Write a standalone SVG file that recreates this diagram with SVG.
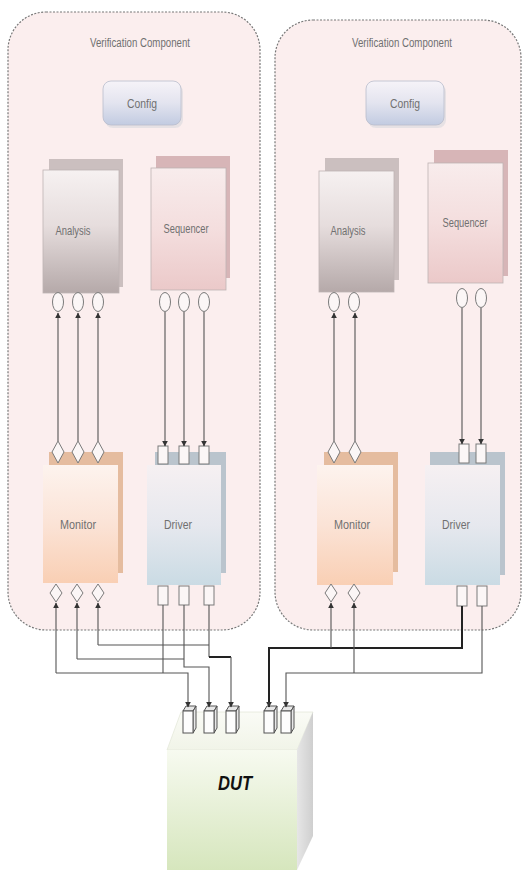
<svg xmlns="http://www.w3.org/2000/svg" width="523" height="871" viewBox="0 0 523 871">
<defs>
<linearGradient id="gAna" x1="0" y1="0" x2="0" y2="1"><stop offset="0" stop-color="#f6f1f1"/><stop offset="0.45" stop-color="#e6dddd"/><stop offset="1" stop-color="#b5a9a9"/></linearGradient>
<linearGradient id="gSeq" x1="0" y1="0" x2="0" y2="1"><stop offset="0" stop-color="#f8ecec"/><stop offset="0.5" stop-color="#f4dede"/><stop offset="1" stop-color="#ebc9c9"/></linearGradient>
<linearGradient id="gMon" x1="0" y1="0" x2="0" y2="1"><stop offset="0" stop-color="#fdf3ee"/><stop offset="0.5" stop-color="#fbe3d6"/><stop offset="1" stop-color="#f9cfb4"/></linearGradient>
<linearGradient id="gDrv" x1="0" y1="0" x2="0" y2="1"><stop offset="0" stop-color="#f6f0f2"/><stop offset="0.5" stop-color="#e6e8ee"/><stop offset="1" stop-color="#cadbe4"/></linearGradient>
<linearGradient id="gCfg" x1="0" y1="0" x2="0" y2="1"><stop offset="0" stop-color="#f6f3f8"/><stop offset="0.5" stop-color="#e3e4ef"/><stop offset="1" stop-color="#c2cbe1"/></linearGradient>
<linearGradient id="gDut" x1="0" y1="0" x2="0" y2="1"><stop offset="0" stop-color="#f7faf0"/><stop offset="1" stop-color="#d6e6bd"/></linearGradient>
<linearGradient id="gDutTop" x1="0" y1="0" x2="0" y2="1"><stop offset="0" stop-color="#fafbf6"/><stop offset="1" stop-color="#f1f4e8"/></linearGradient>
<linearGradient id="gDutSide" x1="0" y1="0" x2="1" y2="0"><stop offset="0" stop-color="#e6e6e6"/><stop offset="1" stop-color="#cfcfcf"/></linearGradient>
<marker id="arr" viewBox="0 0 10 10" refX="9" refY="5" markerWidth="6" markerHeight="6" orient="auto" markerUnits="userSpaceOnUse"><path d="M0,0 L10,5 L0,10 Z" fill="#333"/></marker>
</defs>
<style>
.cont{fill:#fbeeee;stroke:#777;stroke-width:1.2;stroke-dasharray:2 1.5}
.lbl{font-family:"Liberation Sans",Arial,sans-serif;font-size:12.5px;fill:#707070;text-anchor:middle}
.front{stroke:#bdb3b3;stroke-width:0.8}
.port{fill:#fbf6f6;stroke:#7a7a7a;stroke-width:1}
.w{fill:none;stroke:#555;stroke-width:1.1}
.wt{fill:none;stroke:#222;stroke-width:2}
.dp{fill:#fdfdfd;stroke:#555;stroke-width:1}
.dpt{fill:#e8e8e8;stroke:#555;stroke-width:1}
</style>
<rect width="523" height="871" fill="#ffffff"/>

<g id="vc-left">
<rect class="cont" x="8" y="12" width="252" height="618" rx="38"/>
<text class="lbl" x="140" y="47" textLength="100" lengthAdjust="spacingAndGlyphs">Verification Component</text>
</g>
<g id="vc-right">
<rect class="cont" x="275" y="20" width="246" height="610" rx="38"/>
<text class="lbl" x="402" y="47" textLength="100" lengthAdjust="spacingAndGlyphs">Verification Component</text>
</g>

<g id="config-left">
<rect x="105" y="84" width="78" height="44" rx="8" fill="#d8d8de" opacity="0.6"/>
<rect x="103" y="81" width="78" height="44" rx="8" fill="url(#gCfg)" stroke="#b9bdcc" stroke-width="0.8"/>
<text class="lbl" x="142" y="108" textLength="30" lengthAdjust="spacingAndGlyphs">Config</text>
</g>
<g id="config-right">
<rect x="368" y="84" width="78" height="44" rx="8" fill="#d8d8de" opacity="0.6"/>
<rect x="366" y="81" width="78" height="44" rx="8" fill="url(#gCfg)" stroke="#b9bdcc" stroke-width="0.8"/>
<text class="lbl" x="405" y="108" textLength="30" lengthAdjust="spacingAndGlyphs">Config</text>
</g>

<g id="analysis-left">
<rect x="49" y="159" width="74" height="128" fill="#cbbfbf"/>
<rect class="front" x="43" y="170" width="76" height="123" fill="url(#gAna)"/>
<text class="lbl" x="73" y="235" textLength="35" lengthAdjust="spacingAndGlyphs">Analysis</text>
<ellipse class="port" cx="58" cy="302" rx="5.5" ry="9.5"/>
<ellipse class="port" cx="78" cy="302" rx="5.5" ry="9.5"/>
<ellipse class="port" cx="98" cy="302" rx="5.5" ry="9.5"/>
</g>
<g id="sequencer-left">
<rect x="156" y="156" width="74" height="122" fill="#d7b5b7"/>
<rect class="front" x="151" y="168" width="75" height="122" fill="url(#gSeq)"/>
<text class="lbl" x="186" y="233" textLength="45" lengthAdjust="spacingAndGlyphs">Sequencer</text>
<ellipse class="port" cx="165" cy="302" rx="5.5" ry="9.5"/>
<ellipse class="port" cx="184" cy="302" rx="5.5" ry="9.5"/>
<ellipse class="port" cx="204" cy="302" rx="5.5" ry="9.5"/>
</g>
<g id="monitor-left">
<rect x="49" y="452" width="74" height="121" fill="#e5bc9f"/>
<rect x="43" y="465" width="75" height="118" fill="url(#gMon)"/>
<text class="lbl" x="78" y="529" textLength="36" lengthAdjust="spacingAndGlyphs">Monitor</text>
<path class="port" d="M58,441 L64,452 L58,463 L52,452 Z"/>
<path class="port" d="M78,441 L84,452 L78,463 L72,452 Z"/>
<path class="port" d="M98,441 L104,452 L98,463 L92,452 Z"/>
<path class="port" d="M56,584 L62,593 L56,602 L50,593 Z"/>
<path class="port" d="M77,584 L83,593 L77,602 L71,593 Z"/>
<path class="port" d="M98,584 L104,593 L98,602 L92,593 Z"/>
</g>
<g id="driver-left">
<rect x="155" y="452" width="71" height="121" fill="#bac4cd"/>
<rect x="147" y="465" width="74" height="120" fill="url(#gDrv)"/>
<text class="lbl" x="178" y="529" textLength="28" lengthAdjust="spacingAndGlyphs">Driver</text>
<rect class="port" x="158" y="446" width="10" height="18"/>
<rect class="port" x="179" y="446" width="10" height="18"/>
<rect class="port" x="199" y="446" width="10" height="18"/>
<rect class="port" x="158" y="586" width="10" height="19"/>
<rect class="port" x="179" y="586" width="10" height="19"/>
<rect class="port" x="204" y="586" width="10" height="19"/>
</g>

<g id="analysis-right">
<rect x="325" y="158" width="74" height="122" fill="#cbbfbf"/>
<rect class="front" x="319" y="171" width="75" height="121" fill="url(#gAna)"/>
<text class="lbl" x="348" y="235" textLength="35" lengthAdjust="spacingAndGlyphs">Analysis</text>
<ellipse class="port" cx="334" cy="302" rx="5.5" ry="9.5"/>
<ellipse class="port" cx="354" cy="302" rx="5.5" ry="9.5"/>
</g>
<g id="sequencer-right">
<rect x="434" y="150" width="74" height="126" fill="#d7b5b7"/>
<rect class="front" x="428" y="163" width="75" height="120" fill="url(#gSeq)"/>
<text class="lbl" x="465" y="227" textLength="45" lengthAdjust="spacingAndGlyphs">Sequencer</text>
<ellipse class="port" cx="462" cy="298" rx="5.5" ry="9.5"/>
<ellipse class="port" cx="481" cy="298" rx="5.5" ry="9.5"/>
</g>
<g id="monitor-right">
<rect x="324" y="452" width="74" height="120" fill="#e5bc9f"/>
<rect x="317" y="465" width="76" height="120" fill="url(#gMon)"/>
<text class="lbl" x="352" y="529" textLength="36" lengthAdjust="spacingAndGlyphs">Monitor</text>
<path class="port" d="M334,441 L340,452 L334,463 L328,452 Z"/>
<path class="port" d="M355,441 L361,452 L355,463 L349,452 Z"/>
<path class="port" d="M331,584 L337,593 L331,602 L325,593 Z"/>
<path class="port" d="M354,584 L360,593 L354,602 L348,593 Z"/>
</g>
<g id="driver-right">
<rect x="430" y="452" width="75" height="123" fill="#bac4cd"/>
<rect x="425" y="465" width="75" height="120" fill="url(#gDrv)"/>
<text class="lbl" x="456" y="529" textLength="28" lengthAdjust="spacingAndGlyphs">Driver</text>
<rect class="port" x="459" y="444" width="10" height="19"/>
<rect class="port" x="476" y="444" width="10" height="19"/>
<rect class="port" x="457" y="586" width="10" height="20"/>
<rect class="port" x="477" y="586" width="10" height="20"/>
</g>

<g id="dut">
<polygon points="167,750 181,712 313,712 297,750" fill="url(#gDutTop)" stroke="#e4e8da" stroke-width="0.8"/>
<polygon points="297,750 313,712 313,836 297,870" fill="url(#gDutSide)"/>
<rect x="167" y="750" width="130" height="120" fill="url(#gDut)"/>
<text x="235" y="790" font-family="'Liberation Sans',Arial,sans-serif" font-size="20" font-weight="bold" font-style="italic" fill="#111" text-anchor="middle" textLength="34" lengthAdjust="spacingAndGlyphs">DUT</text>
<g id="dut-ports">
<path class="dpt" d="M183,711 L186,706 L196,706 L193,711 Z M193,711 L196,706 L196,728 L193,733 Z"/><rect class="dp" x="183" y="711" width="10" height="22"/>
<path class="dpt" d="M204,711 L207,706 L217,706 L214,711 Z M214,711 L217,706 L217,728 L214,733 Z"/><rect class="dp" x="204" y="711" width="10" height="22"/>
<path class="dpt" d="M226,711 L229,706 L239,706 L236,711 Z M236,711 L239,706 L239,728 L236,733 Z"/><rect class="dp" x="226" y="711" width="10" height="22"/>
<path class="dpt" d="M264,711 L267,706 L277,706 L274,711 Z M274,711 L277,706 L277,728 L274,733 Z"/><rect class="dp" x="264" y="711" width="10" height="22"/>
<path class="dpt" d="M281,711 L284,706 L294,706 L291,711 Z M291,711 L294,706 L294,728 L291,733 Z"/><rect class="dp" x="281" y="711" width="10" height="22"/>
</g>
</g>

<g id="connectors">
<path class="w" d="M58,441 V313" marker-end="url(#arr)"/>
<path class="w" d="M78,441 V313" marker-end="url(#arr)"/>
<path class="w" d="M98,441 V313" marker-end="url(#arr)"/>
<path class="w" d="M165,312 V446" marker-end="url(#arr)"/>
<path class="w" d="M184,312 V446" marker-end="url(#arr)"/>
<path class="w" d="M204,312 V446" marker-end="url(#arr)"/>
<path class="w" d="M334,441 V313" marker-end="url(#arr)"/>
<path class="w" d="M355,441 V313" marker-end="url(#arr)"/>
<path class="w" d="M462,308 V444" marker-end="url(#arr)"/>
<path class="w" d="M481,308 V444" marker-end="url(#arr)"/>

<path class="w" d="M163,605 V673"/>
<path class="w" d="M56,673 H188 V707" marker-end="url(#arr)"/>
<path class="w" d="M56,673 V603" marker-end="url(#arr)"/>
<path class="w" d="M77,659 H184"/>
<path class="w" d="M77,659 V603" marker-end="url(#arr)"/>
<path class="w" d="M184,605 V667 H209 V707" marker-end="url(#arr)"/>
<path class="w" d="M98,645 H209"/>
<path class="w" d="M98,645 V603" marker-end="url(#arr)"/>
<path class="w" d="M209,605 V657"/>
<path class="wt" d="M209,657 H231"/>
<path class="w" d="M231,657 V707" marker-end="url(#arr)"/>

<path class="wt" d="M462,606 V648 H269 V707" marker-end="url(#arr)"/>
<path class="w" d="M331,648 V603" marker-end="url(#arr)"/>
<path class="w" d="M482,606 V673 H286 V707" marker-end="url(#arr)"/>
<path class="w" d="M354,673 V603" marker-end="url(#arr)"/>
</g>
</svg>
